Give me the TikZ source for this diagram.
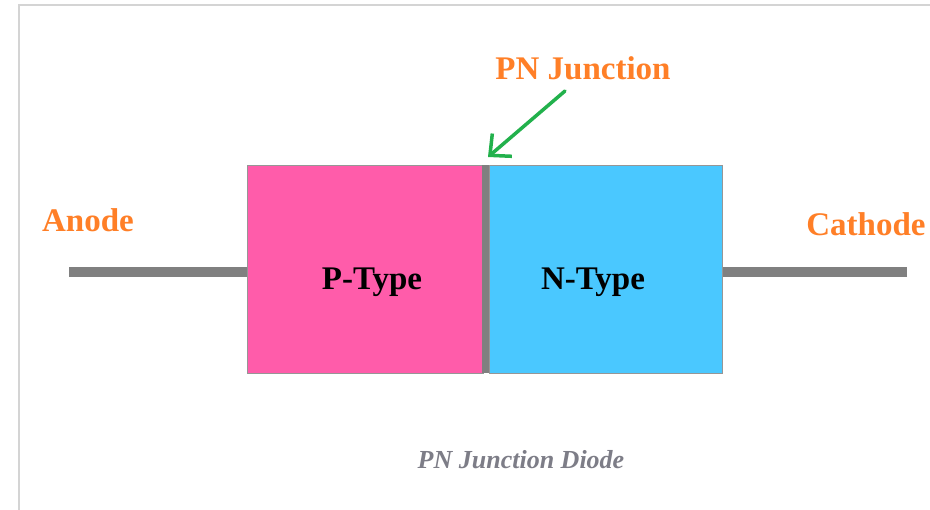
\documentclass[tikz,border=0pt]{standalone}
\usepackage{fontspec}
\setmainfont{Liberation Serif}
\usetikzlibrary{arrows.meta}
\definecolor{lblorange}{RGB}{255,127,39}
\definecolor{ptype}{RGB}{255,92,170}
\definecolor{ntype}{RGB}{74,200,255}
\definecolor{leadgray}{RGB}{128,128,128}
\definecolor{boxedge}{RGB}{150,150,150}
\definecolor{frame}{RGB}{212,212,212}
\definecolor{arrowgreen}{RGB}{34,177,76}
\definecolor{captiongray}{RGB}{125,125,135}
\begin{document}
\begin{tikzpicture}[x=1pt,y=-1pt,
  region/.style={draw=boxedge,line width=1pt,minimum height=208pt,inner sep=0pt,anchor=north west},
  regiontext/.style={font=\fontsize{33}{40}\selectfont\bfseries,inner sep=0pt,anchor=base},
  label/.style={text=lblorange,font=\fontsize{33}{40}\selectfont\bfseries,inner sep=0pt,anchor=base},
  lead/.style={draw=leadgray,line width=10pt},
  pointer/.style={draw=arrowgreen,line width=3.5pt,line cap=round,
    -{Straight Barb[length=16pt,width=30pt,line width=3.5pt]}}]
\useasboundingbox (0,0) rectangle (930,510);
\fill[white] (0,0) rectangle (930,510);
\draw[frame,line width=2pt] (18.5,510) -- (18.5,5) -- (930,5);
% regions
\node[region,fill=ptype,minimum width=236pt] (pbox) at (247,165) {};
\node[region,fill=ntype,minimum width=233pt] (nbox) at (489,165) {};
\node[fill=leadgray,minimum width=7pt,minimum height=208pt,inner sep=0pt,anchor=north west] (junc) at (482,165) {};
\node[regiontext] (ptxt) at (372,290) {P-Type};
\node[regiontext] (ntxt) at (593,290) {N-Type};
% leads
\coordinate (aend) at (69,272);
\coordinate (cend) at (907,272);
\draw[lead] (aend) -- (aend -| pbox.west);
\draw[lead] (cend) -- (cend -| nbox.east);
% labels
\node[label] (anode) at (88,232) {Anode};
\node[label] (cathode) at (866,236) {Cathode};
\node[label] (pnj) at (583,80) {PN Junction};
% pointer
\coordinate (ptail) at (565,91);
\coordinate (ptip) at (488,157);
\draw[pointer] (ptail) -- (ptip);
% caption
\node[text=captiongray,font=\fontsize{26}{30}\selectfont\bfseries\itshape,inner sep=0pt,anchor=base] (caption) at (521,469) {PN Junction Diode};
\end{tikzpicture}
\end{document}
